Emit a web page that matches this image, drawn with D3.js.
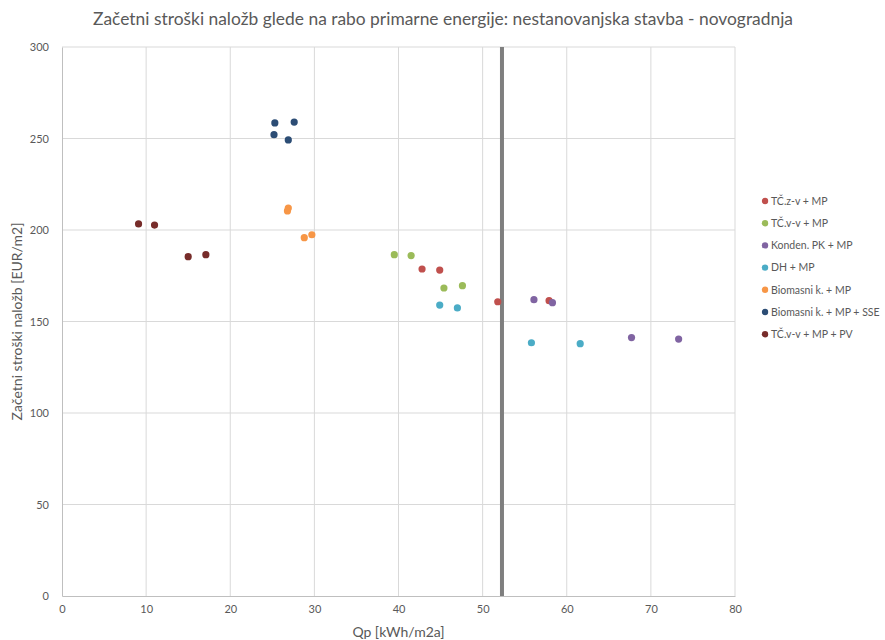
<!DOCTYPE html>
<html><head><meta charset="utf-8">
<script src="https://cdn.jsdelivr.net/npm/d3@7"></script>
<style>body{margin:0;background:#fff}svg{display:block}</style>
</head><body>
<script>
const seriesNames = ["TČ.z-v + MP","TČ.v-v + MP","Konden. PK + MP","DH + MP","Biomasni k. + MP","Biomasni k. + MP + SSE","TČ.v-v + MP + PV"];
const seriesColors = ["#c0504d","#9bbb59","#8064a2","#4bacc6","#f79646","#2c4d75","#772c2a"];
const tczvX = [42.8, 44.9, 51.8, 57.9];
const tczvY = [178.7, 178.1, 160.8, 161.4];
const tcvvX = [39.5, 41.5, 45.4, 47.6];
const tcvvY = [186.5, 186.0, 168.3, 169.6];
const kondX = [56.1, 58.3, 67.7, 73.3];
const kondY = [161.9, 160.3, 141.2, 140.4];
const dhX = [44.9, 47.0, 55.8, 61.6];
const dhY = [159.0, 157.4, 138.4, 137.9];
const bioX = [26.9, 26.8, 28.8, 29.7];
const bioY = [212.0, 210.4, 195.8, 197.4];
const bioSseX = [25.3, 27.6, 25.2, 26.9];
const bioSseY = [258.5, 259.0, 252.1, 249.2];
const tcPvX = [9.1, 11.0, 15.0, 17.1];
const tcPvY = [203.3, 202.7, 185.4, 186.5];
const xTicks = [0,10,20,30,40,50,60,70,80];
const yTicks = [0,50,100,150,200,250,300];
const refLineX = 52.3;
const titleText = "Začetni stroški naložb glede na rabo primarne energije: nestanovanjska stavba - novogradnja";
const xTitle = "Qp [kWh/m2a]";
const yTitle = "Začetni stroški naložb [EUR/m2]";

const seriesX = [tczvX, tcvvX, kondX, dhX, bioX, bioSseX, tcPvX];
const seriesY = [tczvY, tcvvY, kondY, dhY, bioY, bioSseY, tcPvY];

const W = 885, H = 640;
const m = {left: 62, right: 735, top: 47, bottom: 596};
const font = "Lato, 'Open Sans', sans-serif";
const txt = "#595959";

const svg = d3.select("body").append("svg").attr("width", W).attr("height", H);
const x = d3.scaleLinear().domain([0, 80]).range([m.left, m.right]);
const y = d3.scaleLinear().domain([0, 300]).range([m.bottom, m.top]);

// gridlines
svg.append("g").selectAll("line.v").data(xTicks.slice(1)).join("line")
  .attr("x1", d => x(d)).attr("x2", d => x(d)).attr("y1", y(0)).attr("y2", y(300))
  .attr("stroke", "#d9d9d9").attr("stroke-width", 1);
svg.append("g").selectAll("line.h").data(yTicks.slice(1)).join("line")
  .attr("x1", x(0)).attr("x2", x(80)).attr("y1", d => y(d)).attr("y2", d => y(d))
  .attr("stroke", "#d9d9d9").attr("stroke-width", 1);

// axes
const xAxis = d3.axisBottom(x).tickValues(xTicks).tickSize(0).tickPadding(9);
const gx = svg.append("g").attr("transform", `translate(0,${y(0)})`).call(xAxis);
gx.select(".domain").attr("stroke", "#bfbfbf");
gx.selectAll("text").attr("fill", txt).style("font-family", font).style("font-size", "11px");

const yAxis = d3.axisLeft(y).tickValues(yTicks).tickSize(0).tickPadding(13);
const gy = svg.append("g").attr("transform", `translate(${x(0)},0)`).call(yAxis);
gy.select(".domain").attr("stroke", "#bfbfbf");
gy.selectAll("text").attr("fill", txt).style("font-family", font).style("font-size", "11px");

// reference vertical line
svg.append("line").attr("x1", x(refLineX)).attr("x2", x(refLineX))
  .attr("y1", y(0)).attr("y2", y(300)).attr("stroke", "#7f7f7f").attr("stroke-width", 4);

// points
seriesNames.forEach((name, i) => {
  const pts = seriesX[i].map((v, j) => [v, seriesY[i][j]]);
  svg.append("g").selectAll("circle").data(pts).join("circle")
    .attr("cx", d => x(d[0])).attr("cy", d => y(d[1])).attr("r", 3.6)
    .attr("fill", seriesColors[i]);
});

// title
svg.append("text").attr("x", 443).attr("y", 25).attr("text-anchor", "middle")
  .attr("textLength", 700).attr("lengthAdjust", "spacingAndGlyphs")
  .attr("fill", txt).style("font-family", font).style("font-size", "17px").text(titleText);

// axis titles
svg.append("text").attr("x", x(40)).attr("y", 637).attr("text-anchor", "middle")
  .attr("fill", txt).style("font-family", font).style("font-size", "14px").text(xTitle);
svg.append("text").attr("transform", `translate(22,${(m.top + m.bottom) / 2}) rotate(-90)`)
  .attr("text-anchor", "middle").attr("fill", txt).style("font-family", font)
  .style("font-size", "14px").text(yTitle);

// legend
const lg = svg.append("g").attr("transform", "translate(765,201)");
seriesNames.forEach((name, i) => {
  const g = lg.append("g").attr("transform", `translate(0,${i * 22.2})`);
  g.append("circle").attr("cx", 0).attr("cy", 0).attr("r", 3.2).attr("fill", seriesColors[i]);
  g.append("text").attr("x", 6).attr("y", 3.8).attr("fill", txt)
    .style("font-family", font).style("font-size", "10.5px").text(name);
});
</script>
</body></html>
